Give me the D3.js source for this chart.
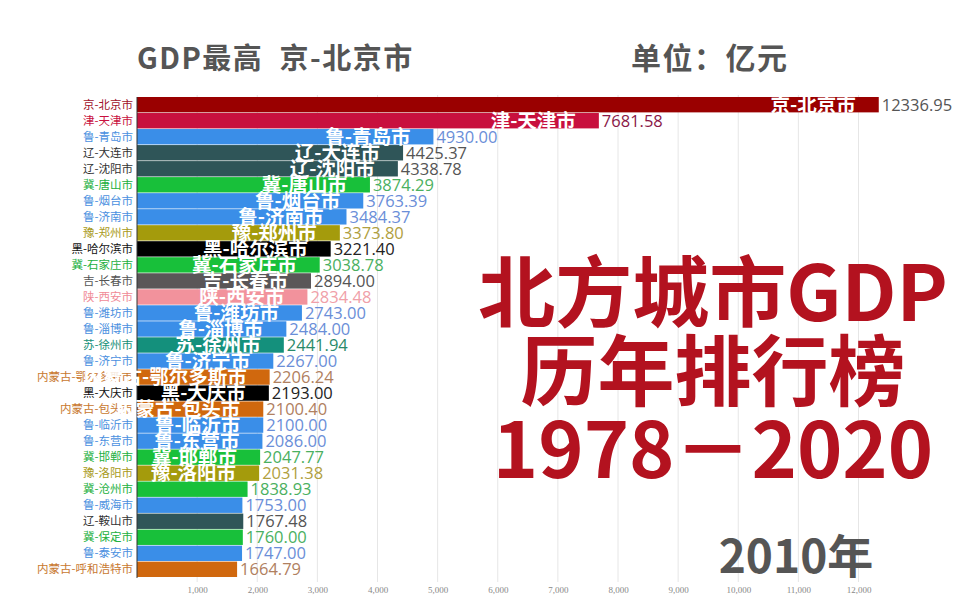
<!DOCTYPE html>
<html><head><meta charset="utf-8">
<script src="https://cdn.jsdelivr.net/npm/d3@7"></script>
<style>body{margin:0;background:#fff;}svg{display:block;font-family:"Noto Sans CJK SC","Noto Sans",sans-serif;}</style>
</head><body><svg id="c" width="972" height="607"></svg>
<script>
const cities = ["京-北京市","津-天津市","鲁-青岛市","辽-大连市","辽-沈阳市","冀-唐山市","鲁-烟台市","鲁-济南市","豫-郑州市","黑-哈尔滨市","冀-石家庄市","吉-长春市","陕-西安市","鲁-潍坊市","鲁-淄博市","苏-徐州市","鲁-济宁市","内蒙古-鄂尔多斯市","黑-大庆市","内蒙古-包头市","鲁-临沂市","鲁-东营市","冀-邯郸市","豫-洛阳市","冀-沧州市","鲁-威海市","辽-鞍山市","冀-保定市","鲁-泰安市","内蒙古-呼和浩特市"];
const gdp = [12336.95,7681.58,4930.00,4425.37,4338.78,3874.29,3763.39,3484.37,3373.80,3221.40,3038.78,2894.00,2834.48,2743.00,2484.00,2441.94,2267.00,2206.24,2193.00,2100.40,2100.00,2086.00,2047.77,2031.38,1838.93,1753.00,1767.48,1760.00,1747.00,1664.79];
const showInner = [1,1,1,1,1,1,1,1,1,1,1,1,1,1,1,1,1,1,1,1,1,1,1,1,0,0,0,0,0,0];
const ticks = [1000,2000,3000,4000,5000,6000,7000,8000,9000,10000,11000,12000];
const year = "2010年";
const provColor = {"京":"#9a0000","津":"#c8103e","鲁":"#3a8ee8","辽":"#2f5558","冀":"#18c03a","豫":"#a49b0c","黑":"#000000","吉":"#5a5658","陕":"#f2929c","苏":"#14907c","内蒙古":"#d0680e"};
const textColor = {"京":"#a0102a","津":"#c8103e","鲁":"#4a90e0","辽":"#333","冀":"#22b040","豫":"#a89a20","黑":"#111","吉":"#555","陕":"#f08a96","苏":"#149078","内蒙古":"#c87830"};
const valColor = {"京":"#555","津":"#8a1848","鲁":"#6a8ed8","辽":"#555","冀":"#4ab060","豫":"#b0a040","黑":"#222","吉":"#555","陕":"#f0a0a8","苏":"#2a8a6a","内蒙古":"#b08060"};

const data = cities.map((c,i)=>({name:c, prov:c.split("-")[0], v:gdp[i], inner:showInner[i]}));
const svg = d3.select("#c");
const x = d3.scaleLinear().domain([0,12000]).range([137,858.5]);
const y = d3.scaleBand().domain(cities).range([97,577]).paddingInner(0.04);

// grid
svg.append("g").selectAll("line").data(ticks).join("line")
  .attr("x1",d=>x(d)).attr("x2",d=>x(d)).attr("y1",95).attr("y2",582)
  .attr("stroke","#e6e6e6").attr("stroke-width",1);
const ax = svg.append("g").attr("transform","translate(0,582)")
  .call(d3.axisBottom(x).tickValues(ticks).tickSize(0).tickFormat(d3.format(",")));
ax.select(".domain").remove();
ax.selectAll("text").attr("fill","#888").attr("font-size",9).attr("dy","0.9em")
  .attr("font-family","Liberation Serif, serif");

// bars
svg.append("g").selectAll("rect").data(data).join("rect")
  .attr("x",x(0)).attr("y",d=>y(d.name)).attr("width",d=>x(d.v)-x(0)).attr("height",y.bandwidth())
  .attr("fill",d=>provColor[d.prov]);
svg.append("line").attr("x1",137).attr("x2",137).attr("y1",97).attr("y2",578).attr("stroke","#333").attr("stroke-width",1);

// left labels
svg.append("g").selectAll("text").data(data).join("text")
  .attr("x",133).attr("y",d=>y(d.name)+y.bandwidth()/2).attr("dy","0.35em")
  .attr("text-anchor","end").attr("font-size",11.5).attr("fill",d=>textColor[d.prov]).text(d=>d.name);

// inner labels
svg.append("g").selectAll("text").data(data.filter(d=>d.inner)).join("text")
  .attr("x",d=>x(d.v)-23).attr("y",d=>y(d.name)+y.bandwidth()/2).attr("dy","0.36em")
  .attr("text-anchor","end").attr("font-size",19.5).attr("font-weight","bold").attr("fill","#fff").text(d=>d.name);

// values
svg.append("g").selectAll("text").data(data).join("text")
  .attr("x",d=>x(d.v)+3).attr("y",d=>y(d.name)+y.bandwidth()/2).attr("dy","0.36em")
  .attr("font-size",16.5).attr("fill",d=>valColor[d.prov]).attr("font-family","Open Sans, sans-serif")
  .text(d=>d.v.toFixed(2));

// header
svg.append("text").attr("x",137).attr("y",69).attr("font-size",29).attr("font-weight","bold").attr("fill","#555")
  .attr("letter-spacing",1.5).attr("xml:space","preserve").text("GDP最高  京-北京市");
svg.append("text").attr("x",631).attr("y",69).attr("font-size",30).attr("font-weight","bold").attr("fill","#555")
  .attr("letter-spacing",1.5).text("单位：亿元");

// big title
const tl = ["北方城市GDP","历年排行榜","1978－2020"];
svg.append("g").selectAll("text").data(tl).join("text")
  .attr("x",713).attr("y",(d,i)=>321+i*78.5).attr("text-anchor","middle")
  .attr("font-size",77).attr("font-weight","bold").attr("fill","#b3121f").text(d=>d);

svg.append("text").attr("x",796).attr("y",573).attr("text-anchor","middle").attr("font-size",46)
  .attr("font-weight","bold").attr("fill","#555").text(year);
</script></body></html>
